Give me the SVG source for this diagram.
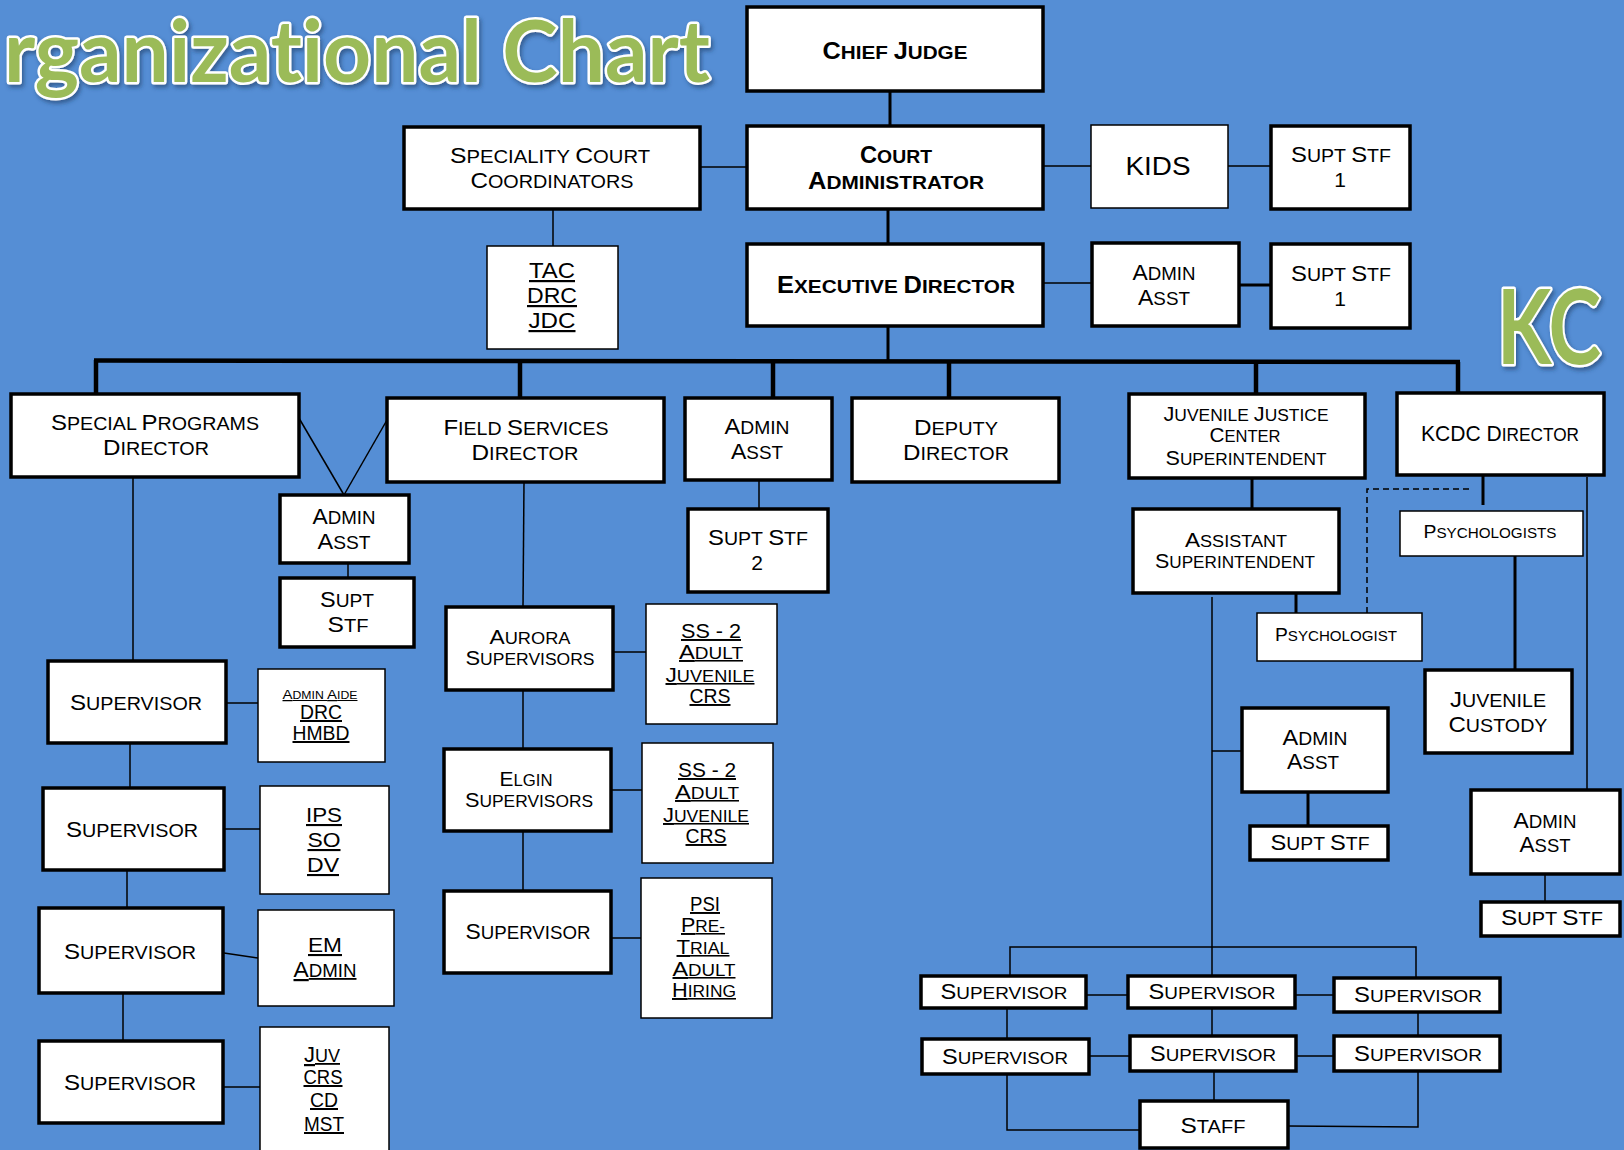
<svg xmlns="http://www.w3.org/2000/svg" width="1624" height="1150" viewBox="0 0 1624 1150">
<defs>
<style>
.t{font-family:"Liberation Sans",Arial,sans-serif;text-anchor:middle;fill:#000}
.A{font-size:18px}.A .k{font-size:22px}
.B{font-size:18.8px;font-weight:bold}.B .k{font-size:23px}
.M{font-size:15.6px}.M .k{font-size:19.5px}
.R{font-size:17.2px}.R .k{font-size:21.5px}
.P{font-size:14.5px}.P .k{font-size:18.5px}
.T{font-size:10.2px}.T .k{font-size:12.5px}
.F19{font-size:19.5px}.F20{font-size:20px}.F21{font-size:21px}.F22{font-size:22px}.F25{font-size:25px}
.u{text-decoration:underline}
.bx{fill:#fff;stroke:#000;stroke-width:3.5}
.bn{fill:#fff;stroke:#000;stroke-width:1.5}
.c1{stroke:#000;stroke-width:1.5;fill:none}
.c2{stroke:#000;stroke-width:3;fill:none}
.c3{stroke:#000;stroke-width:4.5;fill:none}
.dash{stroke-dasharray:6 4}
.ttl{font-family:Lato,"Open Sans",sans-serif;font-weight:bold;fill:#9bbb59;stroke:#fff;stroke-width:5;paint-order:stroke;stroke-linejoin:round;font-variant-ligatures:none}
</style>
<filter id="sh" x="-5%" y="-20%" width="110%" height="150%">
<feDropShadow dx="2" dy="3" stdDeviation="2" flood-color="#1f3c66" flood-opacity="0.6"/>
</filter>
</defs>
<rect x="0" y="0" width="1624" height="1150" fill="#558ed5"/>
<text class="ttl" x="4" y="82" font-size="86" textLength="706" lengthAdjust="spacingAndGlyphs" filter="url(#sh)">rganizational Chart</text>
<text class="ttl" x="1497" y="364" font-size="104" textLength="104" lengthAdjust="spacingAndGlyphs" filter="url(#sh)">KC</text>

<g id="connectors">
<line class="c2" x1="890" y1="91" x2="890" y2="126"/>
<line class="c1" x1="700" y1="167" x2="747" y2="167"/>
<line class="c1" x1="553" y1="209" x2="553" y2="246"/>
<line class="c1" x1="1043" y1="166" x2="1091" y2="166"/>
<line class="c1" x1="1228" y1="166" x2="1271" y2="166"/>
<line class="c2" x1="888" y1="209" x2="888" y2="244"/>
<line class="c1" x1="1043" y1="283" x2="1092" y2="283"/>
<line class="c2" x1="1239" y1="285" x2="1271" y2="285"/>
<line class="c2" x1="888" y1="326" x2="888" y2="361"/>
<line class="c3" x1="94" y1="360.5" x2="1460" y2="362"/>
<line class="c3" x1="96" y1="360" x2="96" y2="394"/>
<line class="c3" x1="520" y1="361" x2="520" y2="398"/>
<line class="c3" x1="773" y1="361" x2="773" y2="398"/>
<line class="c3" x1="949" y1="361" x2="949" y2="398"/>
<line class="c3" x1="1256" y1="362" x2="1256" y2="394"/>
<line class="c3" x1="1458" y1="362" x2="1458" y2="393"/>
<line class="c1" x1="296" y1="413" x2="344" y2="495"/>
<line class="c1" x1="387" y1="420" x2="344" y2="495"/>
<line class="c1" x1="348" y1="563" x2="348" y2="578"/>
<line class="c1" x1="133" y1="477" x2="133" y2="661"/>
<line class="c1" x1="226" y1="703" x2="258" y2="703"/>
<line class="c1" x1="130" y1="743" x2="130" y2="788"/>
<line class="c1" x1="224" y1="829" x2="260" y2="829"/>
<line class="c1" x1="127" y1="870" x2="127" y2="908"/>
<line class="c1" x1="224" y1="953" x2="258" y2="958"/>
<line class="c1" x1="123" y1="993" x2="123" y2="1041"/>
<line class="c1" x1="223" y1="1087" x2="260" y2="1087"/>
<line class="c1" x1="524" y1="482" x2="523" y2="607"/>
<line class="c1" x1="613" y1="652" x2="646" y2="652"/>
<line class="c1" x1="523" y1="690" x2="523" y2="749"/>
<line class="c1" x1="611" y1="790" x2="642" y2="790"/>
<line class="c1" x1="523" y1="831" x2="523" y2="891"/>
<line class="c1" x1="611" y1="938" x2="641" y2="938"/>
<line class="c1" x1="759" y1="480" x2="759" y2="509"/>
<line class="c2" x1="1252" y1="478" x2="1252" y2="509"/>
<line class="c2" x1="1483" y1="475" x2="1483" y2="505"/>
<polyline class="c1 dash" points="1469,489 1367,489 1367,613"/>
<line class="c2" x1="1296" y1="589" x2="1296" y2="613"/>
<line class="c2" x1="1515" y1="556" x2="1515" y2="670"/>
<line class="c1" x1="1587" y1="477" x2="1587" y2="790"/>
<line class="c1" x1="1212" y1="597" x2="1212" y2="976"/>
<line class="c1" x1="1212" y1="751" x2="1242" y2="751"/>
<line class="c2" x1="1308" y1="792" x2="1308" y2="826"/>
<line class="c1" x1="1545" y1="874" x2="1545" y2="902"/>
<polyline class="c1" points="1010,976 1010,947 1416,947 1416,978"/>
<line class="c1" x1="1086" y1="995" x2="1128" y2="995"/>
<line class="c1" x1="1295" y1="995" x2="1334" y2="995"/>
<line class="c1" x1="1089" y1="1056" x2="1130" y2="1056"/>
<line class="c1" x1="1296" y1="1056" x2="1334" y2="1056"/>
<line class="c1" x1="1007" y1="1008" x2="1007" y2="1039"/>
<line class="c1" x1="1212" y1="1008" x2="1212" y2="1036"/>
<line class="c1" x1="1418" y1="1012" x2="1418" y2="1036"/>
<line class="c1" x1="1214" y1="1071" x2="1214" y2="1101"/>
<polyline class="c1" points="1007,1074 1007,1130 1140,1130"/>
<polyline class="c1" points="1288,1126 1418,1127 1418,1071"/>
</g>

<g id="chief-judge"><rect class="bx" x="747" y="7" width="296" height="84"/>
<text class="t B" x="895" y="59" textLength="145" lengthAdjust="spacingAndGlyphs"><tspan class="k">C</tspan>HIEF <tspan class="k">J</tspan>UDGE</text></g>
<g id="speciality-court"><rect class="bx" x="404" y="127" width="296" height="82"/>
<text class="t A" x="550" y="163" textLength="200" lengthAdjust="spacingAndGlyphs"><tspan class="k">S</tspan>PECIALITY <tspan class="k">C</tspan>OURT</text>
<text class="t A" x="552" y="188" textLength="163" lengthAdjust="spacingAndGlyphs"><tspan class="k">C</tspan>OORDINATORS</text></g>
<g id="court-admin"><rect class="bx" x="747" y="126" width="296" height="83"/>
<text class="t B" x="896" y="163" textLength="72" lengthAdjust="spacingAndGlyphs"><tspan class="k">C</tspan>OURT</text>
<text class="t B" x="896" y="189" textLength="176" lengthAdjust="spacingAndGlyphs"><tspan class="k">A</tspan>DMINISTRATOR</text></g>
<g id="kids"><rect class="bn" x="1091" y="125" width="137" height="83"/>
<text class="t F25" x="1158" y="175" textLength="65" lengthAdjust="spacingAndGlyphs">KIDS</text></g>
<g id="supt-stf-1a"><rect class="bx" x="1271" y="126" width="139" height="83"/>
<text class="t A" x="1341" y="162" textLength="100" lengthAdjust="spacingAndGlyphs"><tspan class="k">S</tspan>UPT <tspan class="k">S</tspan>TF</text>
<text class="t F21" x="1340" y="187">1</text></g>
<g id="tac"><rect class="bn" x="487" y="246" width="131" height="103"/>
<text class="t u F22" x="552" y="278" textLength="46" lengthAdjust="spacingAndGlyphs">TAC</text>
<text class="t u F22" x="552" y="303" textLength="50" lengthAdjust="spacingAndGlyphs">DRC</text>
<text class="t u F22" x="552" y="328" textLength="47" lengthAdjust="spacingAndGlyphs">JDC</text></g>
<g id="exec-director"><rect class="bx" x="747" y="244" width="296" height="82"/>
<text class="t B" x="896" y="293" textLength="238" lengthAdjust="spacingAndGlyphs"><tspan class="k">E</tspan>XECUTIVE <tspan class="k">D</tspan>IRECTOR</text></g>
<g id="admin-asst-top"><rect class="bx" x="1092" y="243" width="147" height="83"/>
<text class="t A" x="1164" y="280" textLength="63" lengthAdjust="spacingAndGlyphs"><tspan class="k">A</tspan>DMIN</text>
<text class="t A" x="1164" y="305" textLength="52" lengthAdjust="spacingAndGlyphs"><tspan class="k">A</tspan>SST</text></g>
<g id="supt-stf-1b"><rect class="bx" x="1271" y="244" width="139" height="84"/>
<text class="t A" x="1341" y="281" textLength="100" lengthAdjust="spacingAndGlyphs"><tspan class="k">S</tspan>UPT <tspan class="k">S</tspan>TF</text>
<text class="t F21" x="1340" y="306">1</text></g>
<g id="special-programs"><rect class="bx" x="11" y="394" width="288" height="83"/>
<text class="t A" x="155" y="430" textLength="208" lengthAdjust="spacingAndGlyphs"><tspan class="k">S</tspan>PECIAL <tspan class="k">P</tspan>ROGRAMS</text>
<text class="t A" x="156" y="455" textLength="106" lengthAdjust="spacingAndGlyphs"><tspan class="k">D</tspan>IRECTOR</text></g>
<g id="field-services"><rect class="bx" x="387" y="398" width="277" height="84"/>
<text class="t A" x="526" y="435" textLength="165" lengthAdjust="spacingAndGlyphs"><tspan class="k">F</tspan>IELD <tspan class="k">S</tspan>ERVICES</text>
<text class="t A" x="525" y="460" textLength="107" lengthAdjust="spacingAndGlyphs"><tspan class="k">D</tspan>IRECTOR</text></g>
<g id="admin-asst-mid"><rect class="bx" x="685" y="398" width="147" height="82"/>
<text class="t A" x="757" y="434" textLength="65" lengthAdjust="spacingAndGlyphs"><tspan class="k">A</tspan>DMIN</text>
<text class="t A" x="757" y="459" textLength="52" lengthAdjust="spacingAndGlyphs"><tspan class="k">A</tspan>SST</text></g>
<g id="deputy-director"><rect class="bx" x="852" y="398" width="207" height="84"/>
<text class="t A" x="956" y="435" textLength="84" lengthAdjust="spacingAndGlyphs"><tspan class="k">D</tspan>EPUTY</text>
<text class="t A" x="956" y="460" textLength="106" lengthAdjust="spacingAndGlyphs"><tspan class="k">D</tspan>IRECTOR</text></g>
<g id="jjc-superintendent"><rect class="bx" x="1129" y="394" width="236" height="84"/>
<text class="t M" x="1246" y="421" textLength="165" lengthAdjust="spacingAndGlyphs"><tspan class="k">J</tspan>UVENILE <tspan class="k">J</tspan>USTICE</text>
<text class="t M" x="1245" y="442" textLength="71" lengthAdjust="spacingAndGlyphs"><tspan class="k">C</tspan>ENTER</text>
<text class="t M" x="1246" y="465" textLength="161" lengthAdjust="spacingAndGlyphs"><tspan class="k">S</tspan>UPERINTENDENT</text></g>
<g id="kcdc-director"><rect class="bx" x="1397" y="393" width="207" height="82"/>
<text class="t A" x="1500" y="441" textLength="158" lengthAdjust="spacingAndGlyphs"><tspan class="k">KCDC D</tspan>IRECTOR</text></g>
<g id="sp-admin-asst"><rect class="bx" x="280" y="495" width="129" height="68"/>
<text class="t A" x="344" y="524" textLength="63" lengthAdjust="spacingAndGlyphs"><tspan class="k">A</tspan>DMIN</text>
<text class="t A" x="344" y="549" textLength="53" lengthAdjust="spacingAndGlyphs"><tspan class="k">A</tspan>SST</text></g>
<g id="sp-supt-stf"><rect class="bx" x="280" y="578" width="134" height="69"/>
<text class="t A" x="347" y="607" textLength="54" lengthAdjust="spacingAndGlyphs"><tspan class="k">S</tspan>UPT</text>
<text class="t A" x="348" y="632" textLength="41" lengthAdjust="spacingAndGlyphs"><tspan class="k">S</tspan>TF</text></g>
<g id="supt-stf-2"><rect class="bx" x="688" y="509" width="140" height="83"/>
<text class="t A" x="758" y="545" textLength="100" lengthAdjust="spacingAndGlyphs"><tspan class="k">S</tspan>UPT <tspan class="k">S</tspan>TF</text>
<text class="t F21" x="757" y="570">2</text></g>
<g id="assistant-superintendent"><rect class="bx" x="1133" y="509" width="206" height="84"/>
<text class="t M" x="1236" y="547" textLength="102" lengthAdjust="spacingAndGlyphs"><tspan class="k">A</tspan>SSISTANT</text>
<text class="t M" x="1235" y="568" textLength="160" lengthAdjust="spacingAndGlyphs"><tspan class="k">S</tspan>UPERINTENDENT</text></g>
<g id="psychologists"><rect class="bn" x="1400" y="511" width="183" height="45"/>
<text class="t P" x="1490" y="538" textLength="133" lengthAdjust="spacingAndGlyphs"><tspan class="k">P</tspan>SYCHOLOGISTS</text></g>
<g id="aurora"><rect class="bx" x="446" y="607" width="167" height="83"/>
<text class="t M" x="530" y="644" textLength="81" lengthAdjust="spacingAndGlyphs"><tspan class="k">A</tspan>URORA</text>
<text class="t M" x="530" y="665" textLength="129" lengthAdjust="spacingAndGlyphs"><tspan class="k">S</tspan>UPERVISORS</text></g>
<g id="ss2-a"><rect class="bn" x="646" y="604" width="131" height="120"/>
<text class="t u F19" x="711" y="638" textLength="60" lengthAdjust="spacingAndGlyphs">SS - 2</text>
<text class="t u M" x="711" y="659" textLength="64" lengthAdjust="spacingAndGlyphs"><tspan class="k">A</tspan>DULT</text>
<text class="t u M" x="710" y="682" textLength="89" lengthAdjust="spacingAndGlyphs"><tspan class="k">J</tspan>UVENILE</text>
<text class="t u F19" x="710" y="703" textLength="41" lengthAdjust="spacingAndGlyphs">CRS</text></g>
<g id="psychologist"><rect class="bn" x="1257" y="613" width="165" height="48"/>
<text class="t P" x="1336" y="641" textLength="122" lengthAdjust="spacingAndGlyphs"><tspan class="k">P</tspan>SYCHOLOGIST</text></g>
<g id="supervisor-1"><rect class="bx" x="48" y="661" width="178" height="82"/>
<text class="t A" x="136" y="710" textLength="132" lengthAdjust="spacingAndGlyphs"><tspan class="k">S</tspan>UPERVISOR</text></g>
<g id="admin-aide"><rect class="bn" x="258" y="669" width="127" height="93"/>
<text class="t u T" x="320" y="699" textLength="75" lengthAdjust="spacingAndGlyphs"><tspan class="k">A</tspan>DMIN <tspan class="k">A</tspan>IDE</text>
<text class="t u F20" x="321" y="719" textLength="42" lengthAdjust="spacingAndGlyphs">DRC</text>
<text class="t u F20" x="321" y="740" textLength="57" lengthAdjust="spacingAndGlyphs">HMBD</text></g>
<g id="juvenile-custody"><rect class="bx" x="1425" y="670" width="147" height="83"/>
<text class="t A" x="1498" y="707" textLength="96" lengthAdjust="spacingAndGlyphs"><tspan class="k">J</tspan>UVENILE</text>
<text class="t A" x="1498" y="732" textLength="99" lengthAdjust="spacingAndGlyphs"><tspan class="k">C</tspan>USTODY</text></g>
<g id="jjc-admin-asst"><rect class="bx" x="1242" y="708" width="146" height="84"/>
<text class="t A" x="1315" y="745" textLength="65" lengthAdjust="spacingAndGlyphs"><tspan class="k">A</tspan>DMIN</text>
<text class="t A" x="1313" y="769" textLength="52" lengthAdjust="spacingAndGlyphs"><tspan class="k">A</tspan>SST</text></g>
<g id="elgin"><rect class="bx" x="444" y="749" width="167" height="82"/>
<text class="t M" x="526" y="786" textLength="53" lengthAdjust="spacingAndGlyphs"><tspan class="k">E</tspan>LGIN</text>
<text class="t M" x="529" y="807" textLength="128" lengthAdjust="spacingAndGlyphs"><tspan class="k">S</tspan>UPERVISORS</text></g>
<g id="ss2-b"><rect class="bn" x="642" y="743" width="131" height="120"/>
<text class="t u F19" x="707" y="777" textLength="58" lengthAdjust="spacingAndGlyphs">SS - 2</text>
<text class="t u M" x="707" y="799" textLength="64" lengthAdjust="spacingAndGlyphs"><tspan class="k">A</tspan>DULT</text>
<text class="t u M" x="706" y="822" textLength="86" lengthAdjust="spacingAndGlyphs"><tspan class="k">J</tspan>UVENILE</text>
<text class="t u F19" x="706" y="843" textLength="41" lengthAdjust="spacingAndGlyphs">CRS</text></g>
<g id="supervisor-2"><rect class="bx" x="43" y="788" width="181" height="82"/>
<text class="t A" x="132" y="837" textLength="132" lengthAdjust="spacingAndGlyphs"><tspan class="k">S</tspan>UPERVISOR</text></g>
<g id="ips"><rect class="bn" x="260" y="786" width="129" height="108"/>
<text class="t u F21" x="324" y="822" textLength="36" lengthAdjust="spacingAndGlyphs">IPS</text>
<text class="t u F21" x="324" y="847" textLength="33" lengthAdjust="spacingAndGlyphs">SO</text>
<text class="t u F21" x="323" y="872" textLength="32" lengthAdjust="spacingAndGlyphs">DV</text></g>
<g id="kcdc-admin-asst"><rect class="bx" x="1471" y="790" width="149" height="84"/>
<text class="t A" x="1545" y="828" textLength="63" lengthAdjust="spacingAndGlyphs"><tspan class="k">A</tspan>DMIN</text>
<text class="t A" x="1545" y="852" textLength="51" lengthAdjust="spacingAndGlyphs"><tspan class="k">A</tspan>SST</text></g>
<g id="jjc-supt-stf"><rect class="bx" x="1250" y="826" width="138" height="34"/>
<text class="t A" x="1320" y="850" textLength="99" lengthAdjust="spacingAndGlyphs"><tspan class="k">S</tspan>UPT <tspan class="k">S</tspan>TF</text></g>
<g id="supervisor-mid"><rect class="bx" x="444" y="891" width="167" height="82"/>
<text class="t A" x="528" y="939" textLength="125" lengthAdjust="spacingAndGlyphs"><tspan class="k">S</tspan>UPERVISOR</text></g>
<g id="psi"><rect class="bn" x="641" y="878" width="131" height="140"/>
<text class="t u F19" x="705" y="911" textLength="30" lengthAdjust="spacingAndGlyphs">PSI</text>
<text class="t u M" x="703" y="932" textLength="44" lengthAdjust="spacingAndGlyphs"><tspan class="k">P</tspan>RE-</text>
<text class="t u M" x="703" y="954" textLength="53" lengthAdjust="spacingAndGlyphs"><tspan class="k">T</tspan>RIAL</text>
<text class="t u M" x="704" y="976" textLength="63" lengthAdjust="spacingAndGlyphs"><tspan class="k">A</tspan>DULT</text>
<text class="t u M" x="704" y="997" textLength="64" lengthAdjust="spacingAndGlyphs"><tspan class="k">H</tspan>IRING</text></g>
<g id="kcdc-supt-stf"><rect class="bx" x="1481" y="902" width="139" height="34"/>
<text class="t A" x="1552" y="925" textLength="102" lengthAdjust="spacingAndGlyphs"><tspan class="k">S</tspan>UPT <tspan class="k">S</tspan>TF</text></g>
<g id="supervisor-3"><rect class="bx" x="39" y="908" width="184" height="85"/>
<text class="t A" x="130" y="959" textLength="132" lengthAdjust="spacingAndGlyphs"><tspan class="k">S</tspan>UPERVISOR</text></g>
<g id="em"><rect class="bn" x="258" y="910" width="136" height="96"/>
<text class="t u F21" x="325" y="952" textLength="34" lengthAdjust="spacingAndGlyphs">EM</text>
<text class="t u A" x="325" y="977" textLength="63" lengthAdjust="spacingAndGlyphs"><tspan class="k">A</tspan>DMIN</text></g>
<g id="row1-a"><rect class="bx" x="921" y="976" width="165" height="32"/>
<text class="t R" x="1004" y="999" textLength="127" lengthAdjust="spacingAndGlyphs"><tspan class="k">S</tspan>UPERVISOR</text></g>
<g id="row1-b"><rect class="bx" x="1128" y="976" width="167" height="32"/>
<text class="t R" x="1212" y="999" textLength="127" lengthAdjust="spacingAndGlyphs"><tspan class="k">S</tspan>UPERVISOR</text></g>
<g id="row1-c"><rect class="bx" x="1334" y="978" width="166" height="34"/>
<text class="t R" x="1418" y="1002" textLength="128" lengthAdjust="spacingAndGlyphs"><tspan class="k">S</tspan>UPERVISOR</text></g>
<g id="juv"><rect class="bn" x="260" y="1027" width="129" height="130"/>
<text class="t u A" x="322" y="1062" textLength="36" lengthAdjust="spacingAndGlyphs"><tspan class="k">J</tspan>UV</text>
<text class="t u F20" x="323" y="1084" textLength="39" lengthAdjust="spacingAndGlyphs">CRS</text>
<text class="t u F20" x="324" y="1107" textLength="28" lengthAdjust="spacingAndGlyphs">CD</text>
<text class="t u F20" x="324" y="1131" textLength="40" lengthAdjust="spacingAndGlyphs">MST</text></g>
<g id="supervisor-4"><rect class="bx" x="39" y="1041" width="184" height="82"/>
<text class="t A" x="130" y="1090" textLength="132" lengthAdjust="spacingAndGlyphs"><tspan class="k">S</tspan>UPERVISOR</text></g>
<g id="row2-a"><rect class="bx" x="922" y="1039" width="167" height="35"/>
<text class="t R" x="1005" y="1064" textLength="126" lengthAdjust="spacingAndGlyphs"><tspan class="k">S</tspan>UPERVISOR</text></g>
<g id="row2-b"><rect class="bx" x="1130" y="1036" width="166" height="35"/>
<text class="t R" x="1213" y="1061" textLength="126" lengthAdjust="spacingAndGlyphs"><tspan class="k">S</tspan>UPERVISOR</text></g>
<g id="row2-c"><rect class="bx" x="1334" y="1036" width="166" height="35"/>
<text class="t R" x="1418" y="1061" textLength="128" lengthAdjust="spacingAndGlyphs"><tspan class="k">S</tspan>UPERVISOR</text></g>
<g id="staff"><rect class="bx" x="1140" y="1101" width="148" height="47"/>
<text class="t A" x="1213" y="1133" textLength="65" lengthAdjust="spacingAndGlyphs"><tspan class="k">S</tspan>TAFF</text></g>
</svg>
